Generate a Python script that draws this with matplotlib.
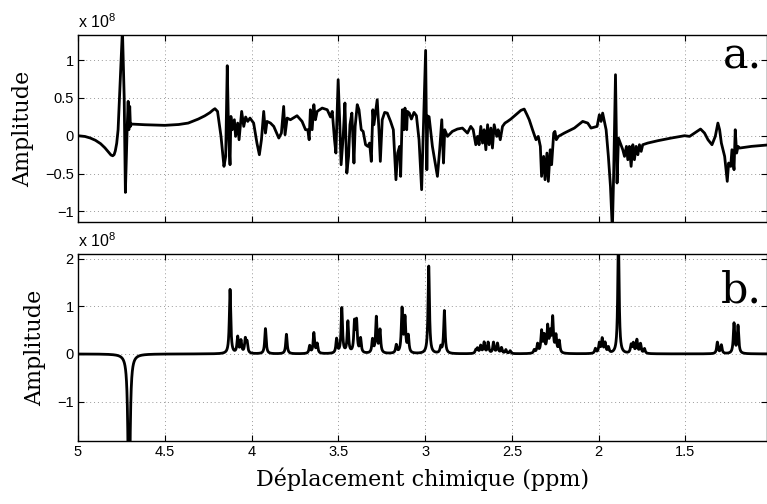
import numpy as np
import matplotlib
matplotlib.use("Agg")
import matplotlib.pyplot as plt

# ---------------- data ----------------
# (a) phase-distorted spectrum, vertices (ppm, amplitude x1e8)
top_ppm = [5.000, 4.960, 4.930, 4.900, 4.870, 4.845, 4.825, 4.810, 4.800, 4.792,
           4.785, 4.777, 4.769, 4.754, 4.744, 4.734, 4.727,
           4.717, 4.711, 4.707, 4.702, 4.698, 4.692, 4.615, 4.500, 4.420, 4.365, 4.307,
           4.270, 4.240, 4.222, 4.211, 4.196, 4.176, 4.159, 4.149, 4.140, 4.132, 4.124, 4.119,
           4.111, 4.099, 4.092, 4.080, 4.072, 4.057, 4.045, 4.034, 4.022, 4.009,
           3.988, 3.969, 3.955, 3.943, 3.930, 3.920, 3.911, 3.891, 3.872, 3.843,
           3.828, 3.815, 3.807, 3.795, 3.776, 3.738, 3.709, 3.689, 3.676, 3.668,
           3.661, 3.651, 3.641, 3.632, 3.622, 3.593, 3.564, 3.545, 3.535, 3.522,
           3.514, 3.501, 3.491, 3.484, 3.472, 3.462, 3.451, 3.441, 3.433, 3.422,
           3.410, 3.403, 3.391, 3.381, 3.368, 3.357, 3.343, 3.330, 3.320, 3.310,
           3.301, 3.295, 3.276, 3.266, 3.258, 3.247, 3.233, 3.218, 3.199, 3.183,
           3.168, 3.158, 3.147, 3.141, 3.131, 3.122, 3.116, 3.106, 3.102, 3.091,
           3.079, 3.064, 3.050, 3.035, 3.020, 3.010, 2.997, 2.990, 2.985, 2.977,
           2.958, 2.929, 2.916, 2.904, 2.894, 2.887, 2.871, 2.843, 2.814, 2.785,
           2.756, 2.737, 2.723, 2.708, 2.698, 2.689, 2.679, 2.669, 2.660, 2.650,
           2.640, 2.631, 2.621, 2.612, 2.602, 2.587, 2.579, 2.567, 2.554, 2.540,
           2.525, 2.506, 2.477, 2.448, 2.429, 2.413, 2.400, 2.381, 2.361, 2.348,
           2.336, 2.329, 2.317, 2.309, 2.298, 2.290, 2.279, 2.271, 2.259, 2.252,
           2.244, 2.232, 2.198, 2.140, 2.092, 2.063, 2.044, 2.009, 1.996, 1.986,
           1.977, 1.967, 1.957, 1.944, 1.932, 1.921, 1.913, 1.903, 1.894, 1.886,
           1.875, 1.861, 1.851, 1.840, 1.832, 1.823, 1.813, 1.803, 1.794, 1.784,
           1.774, 1.765, 1.755, 1.746, 1.717, 1.659, 1.582, 1.505, 1.476, 1.447,
           1.413, 1.390, 1.370, 1.347, 1.328, 1.313, 1.303, 1.293, 1.274, 1.259,
           1.251, 1.239, 1.232, 1.220, 1.213, 1.205, 1.197, 1.188, 1.120, 1.000]
top_val = [0.000, -0.010, -0.030, -0.060, -0.105, -0.160, -0.215, -0.255, -0.265, -0.250,
           -0.200, -0.100, 0.079, 0.872, 1.400, 0.520, -0.749,
           0.079, 0.454, 0.079, 0.387, 0.123, 0.154, 0.145, 0.137, 0.148, 0.167, 0.220,
           0.262, 0.305, 0.340, 0.357, 0.321, -0.009, -0.405, -0.273, 0.925, -0.009, -0.383, 0.255,
           0.079, 0.211, -0.009, 0.167, -0.053, 0.321, 0.123, 0.247, 0.189, 0.233,
           0.167, -0.097, -0.251, -0.053, 0.321, 0.035, 0.189, 0.167, 0.123, -0.031,
           0.035, 0.387, 0.013, 0.233, 0.211, 0.264, 0.189, 0.079, 0.079, -0.053,
           0.343, 0.079, 0.410, 0.211, 0.321, 0.365, 0.343, 0.247, 0.321, -0.053,
           -0.229, 0.740, 0.123, -0.383, -0.009, 0.432, -0.493, -0.273, 0.145, 0.299,
           -0.361, 0.123, 0.410, 0.343, 0.079, 0.057, -0.119, -0.141, -0.097, -0.339,
           0.343, 0.145, 0.476, 0.079, -0.339, 0.211, 0.308, 0.299, 0.189, 0.079,
           -0.581, -0.229, -0.141, -0.537, 0.343, 0.079, 0.365, 0.079, 0.321, 0.299,
           0.220, 0.308, 0.264, -0.053, -0.713, 0.079, 1.127, -0.450, 0.260, 0.250,
           -0.141, -0.537, -0.185, 0.211, -0.361, 0.079, -0.009, 0.057, 0.088, 0.101,
           0.035, 0.123, 0.079, -0.119, -0.009, -0.119, 0.123, -0.097, 0.079, -0.185,
           0.145, -0.119, 0.101, -0.163, 0.145, -0.009, 0.079, -0.053, 0.123, 0.167,
           0.189, 0.220, 0.277, 0.335, 0.352, 0.277, 0.211, 0.079, -0.053, -0.009,
           -0.141, -0.537, -0.273, -0.581, -0.229, -0.603, -0.185, -0.383, 0.035, 0.057,
           -0.053, -0.009, 0.035, 0.101, 0.189, 0.167, 0.101, 0.123, 0.277, 0.189,
           0.299, 0.189, 0.079, -0.273, -0.669, -1.250, -0.449, 0.806, -0.625, -0.031,
           -0.097, -0.185, -0.273, -0.141, -0.317, -0.141, -0.405, -0.119, -0.317, -0.141,
           -0.251, -0.119, -0.207, -0.119, -0.097, -0.066, -0.031, 0.000, -0.009, 0.035,
           0.088, 0.035, -0.053, -0.119, -0.009, 0.167, 0.079, -0.097, -0.273, -0.603,
           -0.361, -0.405, -0.185, -0.449, 0.079, -0.229, -0.141, -0.163, -0.141, -0.117]

# (b) phased spectrum: peak positions (ppm) and heights (x1e8)
peak_ppm = [4.706, 4.124, 4.080, 4.061, 4.036, 4.026, 3.920, 3.799, 3.665, 3.641,
            3.622, 3.510, 3.480, 3.445, 3.407, 3.395, 3.372, 3.303, 3.281, 3.260,
            3.166, 3.133, 3.116, 3.097, 2.979, 2.910, 2.889, 2.708, 2.698, 2.680,
            2.660, 2.637, 2.606, 2.583, 2.560, 2.535, 2.510, 2.371, 2.352, 2.329,
            2.314, 2.294, 2.279, 2.265, 2.246, 2.227, 2.019, 1.996, 1.980, 1.963,
            1.944, 1.886, 1.813, 1.800, 1.780, 1.759, 1.736, 1.316, 1.293, 1.220,
            1.197]
peak_amp = [-4.00, 1.35, 0.34, 0.26, 0.29, 0.22, 0.53, 0.41, 0.16, 0.43,
            0.20, 0.30, 0.95, 0.66, 0.62, 0.64, 0.30, 0.28, 0.75, 0.48,
            0.17, 0.92, 0.72, 0.35, 1.84, 0.13, 0.90, 0.07, 0.10, 0.16,
            0.23, 0.23, 0.23, 0.21, 0.12, 0.08, 0.06, 0.07, 0.19, 0.45,
            0.34, 0.54, 0.38, 0.72, 0.35, 0.25, 0.10, 0.21, 0.30, 0.21,
            0.12, 2.40, 0.17, 0.20, 0.28, 0.20, 0.10, 0.24, 0.18, 0.63,
            0.58]
peak_hwhm = [0.006] + [0.0048] * (len(peak_ppm) - 1)

xticks = [5, 4.5, 4, 3.5, 3, 2.5, 2, 1.5]
xtick_labels = ["5", "4.5", "4", "3.5", "3", "2.5", "2", "1.5"]
top_yticks = [-1, -0.5, 0, 0.5, 1]
top_ytick_labels = ["\u22121", "\u22120.5", "0", "0.5", "1"]
bot_yticks = [-1, 0, 1, 2]
bot_ytick_labels = ["\u22121", "0", "1", "2"]

# ---------------- figure ----------------
fig = plt.figure(figsize=(7.67, 5.04), dpi=100)
ax1 = fig.add_axes([0.1017, 0.5595, 0.8983, 0.371])
ax2 = fig.add_axes([0.1017, 0.125, 0.8983, 0.371])

tick_font = dict(family="Liberation Sans", size=10.5)
serif = "DejaVu Serif"

ppm = np.linspace(5.05, 0.95, 12000)
spec_b = np.zeros_like(ppm)
for p, a, w in zip(peak_ppm, peak_amp, peak_hwhm):
    spec_b += a * w**2 / ((ppm - p)**2 + w**2)

ax1.plot(top_ppm, top_val, color="black", lw=2.0)
ax2.plot(ppm, spec_b, color="black", lw=2.0)

for ax, yt, ytl, ylim in [(ax1, top_yticks, top_ytick_labels, (-1.14, 1.33)),
                          (ax2, bot_yticks, bot_ytick_labels, (-1.83, 2.10))]:
    ax.set_xlim(5, 1.03)
    ax.set_ylim(*ylim)
    ax.set_xticks(xticks)
    ax.set_yticks(yt)
    ax.set_yticklabels(ytl, **tick_font)
    ax.grid(True, color="#999999", linestyle=(0, (1, 3)), lw=0.7)
    ax.tick_params(direction="in", length=4, width=0.8, top=True, right=True, pad=3)
    for s in ax.spines.values():
        s.set_linewidth(1.0)
    ax.set_ylabel("Amplitude", family=serif, fontsize=16, labelpad=8)
    ax.text(0.0, 1.02, r"x 10$^{\mathregular{8}}$", transform=ax.transAxes,
            ha="left", va="bottom", fontsize=11.5, family="Liberation Sans")

ax1.set_xticklabels([])
ax2.set_xticklabels(xtick_labels, **tick_font)
ax2.set_xlabel("Déplacement chimique (ppm)", family=serif, fontsize=16, labelpad=6)

ax1.text(0.993, 0.82, "a.", transform=ax1.transAxes, ha="right", va="baseline",
         family=serif, fontsize=31)
ax2.text(0.993, 0.74, "b.", transform=ax2.transAxes, ha="right", va="baseline",
         family=serif, fontsize=31)

fig.savefig("out.png", dpi=100)
